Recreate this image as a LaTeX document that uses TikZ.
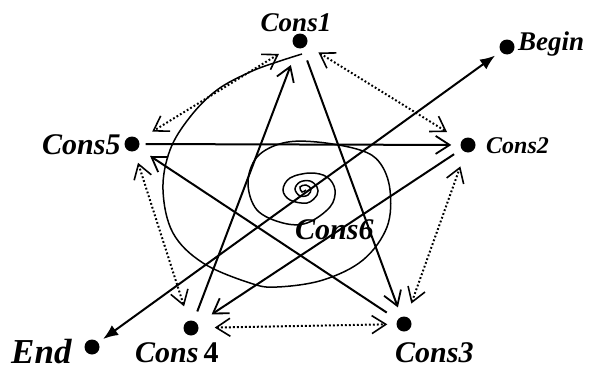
\documentclass[tikz,border=0pt]{standalone}
\usepackage{fontspec}
\setmainfont{Liberation Serif}
\usetikzlibrary{arrows.meta}
\begin{document}
\begin{tikzpicture}[x=1pt,y=-1pt,
  dot/.style={circle,fill=black,inner sep=0pt,minimum size=15pt},
  lbl/.style={font=\bfseries\itshape, inner sep=0pt, anchor=base},
  solidarr/.style={line width=2pt,-{Straight Barb[length=14pt,width=18pt,line width=1.8pt]}},
  dotarr/.style={line width=2pt,dash pattern=on 1.8pt off 2.2pt,
     {Straight Barb[length=14pt,width=18pt,line width=1.6pt,sep=0pt]}-{Straight Barb[length=14pt,width=18pt,line width=1.6pt]}},
  bearr/.style={line width=2pt,{Latex[length=15pt,width=12pt]}-{Latex[length=15pt,width=12pt]}},
  spir/.style={line width=1.5pt}
]
\useasboundingbox (0,0) rectangle (589,372);
% dots
\node[dot] (c1) at (300,41) {};
\node[dot] (c2) at (468,145) {};
\node[dot] (c3) at (404,324) {};
\node[dot] (c4) at (191,328) {};
\node[dot] (c5) at (132,144) {};
\node[dot] (bg) at (507,47) {};
\node[dot] (en) at (92,347) {};
\coordinate (c6) at (303,190);
% labels
\node[lbl] (l1) at (296,31) {\fontsize{27}{27}\selectfont Cons1};
\node[lbl,anchor=base west] (lb) at (518,50) {\fontsize{27}{27}\selectfont Begin};
\node[lbl,anchor=base west] (l2) at (486,153) {\fontsize{24}{24}\selectfont Cons2};
\node[lbl,anchor=base west] (l5) at (42,154) {\fontsize{30}{30}\selectfont Cons5};
\node[lbl,anchor=base west] (l6) at (295,239) {\fontsize{30}{30}\selectfont Cons6};
\node[lbl,anchor=base west] (l4) at (135,362) {\fontsize{30}{30}\selectfont Cons\,\upshape 4};
\node[lbl,anchor=base west] (le) at (11,363) {\fontsize{35}{35}\selectfont End};
\node[lbl,anchor=base west] (l3) at (395,362) {\fontsize{30}{30}\selectfont Cons3};
% spiral
\draw[spir] plot[smooth,tension=0.6] coordinates {
 (302,54) (277,62) (250,72) (217,90) (190,117) (170,150) (163,190)
 (173,233) (203,263) (250,283) (277,287) (323,280) (363,260) (387,227)
 (390,190) (380,163) (360,150) (317,142) (283,143) (257,157) (248,183)
 (257,210) (283,223) (307,223) (330,207) (335,190) (327,177) (310,173)
 (290,178) (283,190) (290,200) (307,203) (317,195) (317,187) (310,181)
 (300,182) (295,189) (300,196) (308,195) (311,189) (306,185) (300,187)
 (302,192) (306,190)};
% begin-end line
\draw[bearr,shorten <=6pt,shorten >=7pt] (en) -- (bg);
% star
\draw[solidarr,shorten <=10pt,shorten >=18pt] (c4) -- (c1);
\draw[solidarr,shorten <=13pt,shorten >=10pt] (c1) -- (c3);
\draw[solidarr,shorten <=13pt,shorten >=14pt] (c3) -- (c5);
\draw[solidarr,shorten <=6pt,shorten >=9pt] (c5) -- (c2);
\draw[solidarr,shorten <=9pt,shorten >=17pt] (c2) -- (c4);
% pentagon dotted
\draw[dotarr,shorten <=14pt,shorten >=17pt] (c1) -- (c2);
\draw[dotarr,shorten <=17pt,shorten >=16pt] (c1) -- (c5);
\draw[dotarr,shorten <=12pt,shorten >=15pt] (c5) -- (c4);
\draw[dotarr,shorten <=16pt,shorten >=9pt] (c4) -- (c3);
\draw[dotarr,shorten <=14pt,shorten >=15pt] (c3) -- (c2);
\end{tikzpicture}
\end{document}
